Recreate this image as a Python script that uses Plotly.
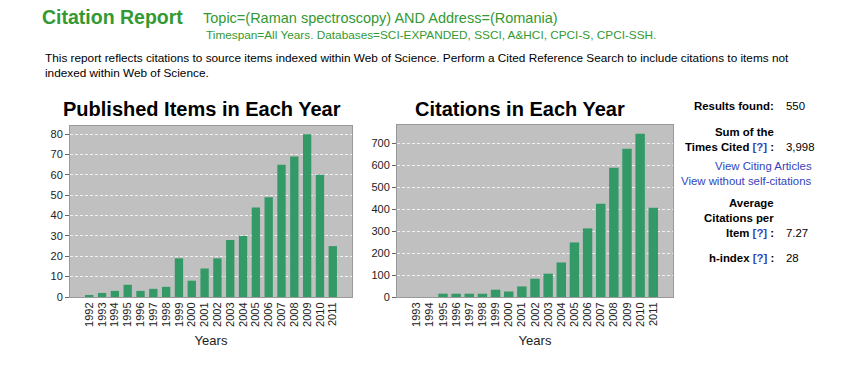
import plotly.graph_objects as go

# ---- data ----
pub_years = [str(y) for y in range(1992, 2012)]
pub_counts = [1, 2, 3, 6, 3, 4, 5, 19, 8, 14, 19, 28, 30, 44, 49, 65, 69, 80, 60, 25]

cit_years = [str(y) for y in range(1993, 2012)]
cit_counts = [0, 0, 15, 15, 15, 15, 33, 25, 48, 83, 106, 157, 248, 312, 424, 588, 674, 742, 406]

left_title = "Published Items in Each Year"
right_title = "Citations in Each Year"
x_title = "Years"

W, H = 860, 365
BAR = "#339966"
BG = "#C0C0C0"
GREEN = "#339933"
BLUE = "#3344BB"
FONT = "Liberation Sans, Arial, sans-serif"


def px(x):
    return x / W


def py(y):
    return 1 - y / H


fig = go.Figure()
fig.add_trace(go.Bar(x=pub_years, y=pub_counts, marker=dict(color=BAR, line=dict(width=0)),
                     width=0.65, xaxis="x", yaxis="y", hoverinfo="x+y"))
fig.add_trace(go.Bar(x=cit_years, y=cit_counts, marker=dict(color=BAR, line=dict(width=0)),
                     width=0.72, xaxis="x2", yaxis="y2", hoverinfo="x+y"))

axis_common = dict(showline=True, linecolor="#999999", linewidth=1, mirror=True, automargin=False,
                   tickfont=dict(family=FONT, size=11, color="#222"), fixedrange=True)
xtitle = dict(text=x_title, font=dict(family=FONT, size=13, color="#222"), standoff=10)
grid = dict(showgrid=True, gridcolor="#F2F2F2", griddash="3px,2px", gridwidth=1)

fig.update_layout(
    width=W, height=H,
    margin=dict(l=0, r=0, t=0, b=0),
    paper_bgcolor="white",
    showlegend=False,
    xaxis=dict(domain=[px(70), px(352)], anchor="y", type="category",
               range=[-1.5, 20.5], tickangle=-90, ticks="", showgrid=False,
               tickmode="array", tickvals=pub_years, ticktext=pub_years,
               title=xtitle, **axis_common),
    yaxis=dict(domain=[py(297), py(126)], anchor="x", range=[0, 84], dtick=10,
               ticks="outside", ticklen=4, tickcolor="#666",
               zeroline=False, **grid, **axis_common),
    xaxis2=dict(domain=[px(397), px(673)], anchor="y2", type="category",
                range=[-1.5, 19.5], tickangle=-90, ticks="", showgrid=False,
                tickmode="array", tickvals=cit_years, ticktext=cit_years,
                title=xtitle, **axis_common),
    yaxis2=dict(domain=[py(297), py(125)], anchor="x2", range=[0, 782], dtick=100,
                ticks="outside", ticklen=4, tickcolor="#666",
                zeroline=False, **grid, **axis_common),
    plot_bgcolor=BG,
)

ann = []


def text(x, y, s, size, color="#000", xanchor="left", bold=False, family=FONT):
    ann.append(dict(x=px(x), y=py(y), xref="paper", yref="paper", text=("<b>%s</b>" % s) if bold else s,
                    showarrow=False, xanchor=xanchor, yanchor="middle",
                    font=dict(family=family, size=size, color=color)))


# header
text(40, 17, "Citation Report", 19.5, GREEN, bold=True)
text(201, 18, "Topic=(Raman spectroscopy) AND Address=(Romania)", 14.5, GREEN)
text(204, 35, "Timespan=All Years. Databases=SCI-EXPANDED, SSCI, A&amp;HCI, CPCI-S, CPCI-SSH.", 11.8, GREEN)
text(43, 58, "This report reflects citations to source items indexed within Web of Science. "
              "Perform a Cited Reference Search to include citations to items not", 11.8, "#000")
text(43, 73, "indexed within Web of Science.", 11.8, "#000")

# chart titles
text(202, 109, left_title, 20, "#000", xanchor="center", bold=True)
text(520, 109, right_title, 20, "#000", xanchor="center", bold=True)

# right panel
S = 11.4
q = "<span style='color:%s'>[?]</span>" % BLUE
text(776, 106, "Results found:", S, bold=True, xanchor="right")
text(784, 106, "550", S)
text(776, 132, "Sum of the", S, bold=True, xanchor="right")
text(776, 147, "Times Cited %s :" % q, S, bold=True, xanchor="right")
text(784, 147, "3,998", S)
text(814, 166, "View Citing Articles", S, BLUE, xanchor="right")
text(814, 181, "View without self-citations", S, BLUE, xanchor="right")
text(776, 203, "Average", S, bold=True, xanchor="right")
text(776, 218, "Citations per", S, bold=True, xanchor="right")
text(776, 233, "Item %s :" % q, S, bold=True, xanchor="right")
text(784, 233, "7.27", S)
text(776, 258, "h-index %s :" % q, S, bold=True, xanchor="right")
text(784, 258, "28", S)

fig.update_layout(annotations=ann)
fig.write_html("out.html", config={"displayModeBar": False},
               post_script="document.body.style.margin='0';document.body.style.padding='0';")
